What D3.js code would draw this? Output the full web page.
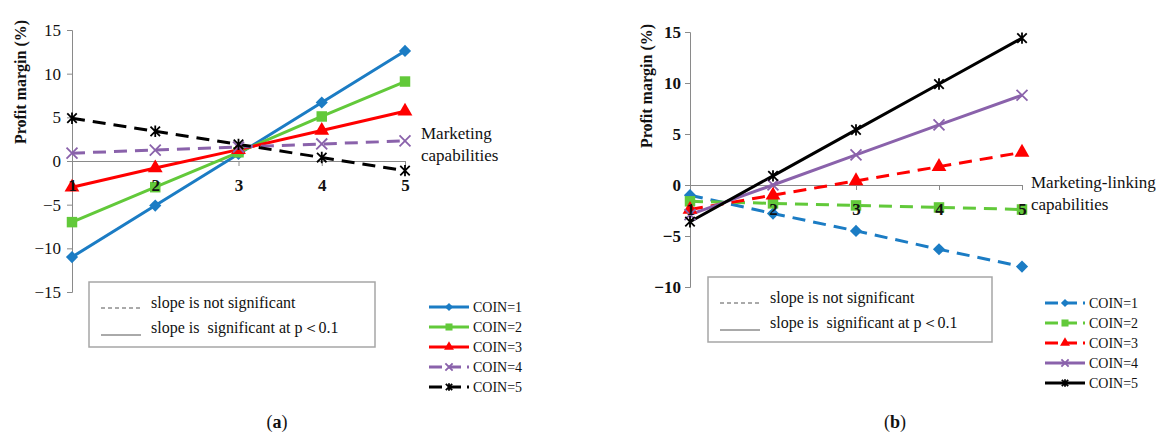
<!DOCTYPE html>
<html>
<head>
<meta charset="utf-8">
<script src="https://cdn.jsdelivr.net/npm/d3@7"></script>
<style>
  body { margin: 0; background: #fff; }
  svg text { font-family: "Liberation Serif", "Times New Roman", serif !important; fill: #111; }
</style>
</head>
<body>
<svg id="chart" width="1158" height="437"></svg>
<script>
// x positions (capability level)
const levels = [1, 2, 3, 4, 5]
const coinNames = ["COIN=1", "COIN=2", "COIN=3", "COIN=4", "COIN=5"]
const coinColors = ["#1b7cc4", "#62c93a", "#ff0000", "#8a62ab", "#000000"]

// panel (a) marketing capabilities
const aCoin1 = [-11, -5.1, 0.8, 6.7, 12.6]
const aCoin2 = [-7, -3, 1.0, 5.1, 9.1]
const aCoin3 = [-3, -0.8, 1.3, 3.5, 5.7]
const aCoin4 = [0.9, 1.25, 1.6, 1.95, 2.3]
const aCoin5 = [4.9, 3.4, 1.9, 0.4, -1.1]
const aDashed = [false, false, false, true, true]
const aTicks = [-15, -10, -5, 0, 5, 10, 15]

// panel (b) marketing-linking capabilities
const bCoin1 = [-1.0, -2.8, -4.5, -6.3, -8.0]
const bCoin2 = [-1.6, -1.8, -2.0, -2.2, -2.4]
const bCoin3 = [-2.4, -1.0, 0.4, 1.8, 3.2]
const bCoin4 = [-2.9, 0, 2.95, 5.9, 8.8]
const bCoin5 = [-3.6, 0.9, 5.4, 9.9, 14.4]
const bDashed = [true, true, true, false, false]
const bTicks = [-10, -5, 0, 5, 10, 15]

const serif = '"Liberation Serif", "Times New Roman", serif'
const svg = d3.select('#chart')

// excel-like markers
const starSymbol = {
  draw(ctx, size) {
    const r = Math.sqrt(size) / 2
    ctx.moveTo(-r, -r); ctx.lineTo(r, r)
    ctx.moveTo(-r, r); ctx.lineTo(r, -r)
    ctx.moveTo(0, -r * 1.2); ctx.lineTo(0, r * 1.2)
  }
}
const squareDiamond = {
  draw(ctx, size) {
    const r = Math.sqrt(size) / 2 * 1.25
    ctx.moveTo(0, -r); ctx.lineTo(r, 0); ctx.lineTo(0, r); ctx.lineTo(-r, 0); ctx.closePath()
  }
}
const xSymbol = d3.symbolTimes || d3.symbolX
const markerTypes = [
  { type: squareDiamond, size: 95, fill: true },
  { type: d3.symbolSquare, size: 110, fill: true },
  { type: d3.symbolTriangle, size: 95, fill: true },
  { type: xSymbol, size: 80, fill: false },
  { type: starSymbol, size: 90, fill: false }
]

function drawMarker(g, i, x, y, scale) {
  const m = markerTypes[i]
  g.append('path')
    .attr('transform', `translate(${x},${y})`)
    .attr('d', d3.symbol().type(m.type).size(m.size * (scale || 1))())
    .attr('fill', m.fill ? coinColors[i] : 'none')
    .attr('stroke', coinColors[i])
    .attr('stroke-width', m.fill ? 0 : 1.8)
}

function drawPanel(p) {
  const g = svg.append('g')
  const x = d3.scaleLinear().domain([1, 5]).range([p.left, p.right])
  const y = d3.scaleLinear().domain(d3.extent(p.ticks)).range([p.bottom, p.top])

  // y axis
  const yAxis = g.append('g')
    .attr('transform', `translate(${p.left},0)`)
    .call(d3.axisLeft(y).tickValues(p.ticks).tickFormat(d3.format('d')).tickSize(5).tickPadding(p.tickPad))
  yAxis.attr('font-family', serif)
  yAxis.select('.domain').attr('stroke', '#8a8a8a')
  yAxis.selectAll('.tick line').attr('stroke', '#8a8a8a')
  yAxis.selectAll('.tick text')
    .style('font-size', '17px')
    .style('font-weight', p.boldTicks ? 'bold' : 'normal')
    .attr('fill', '#222')

  // x axis at zero
  const xAxis = g.append('g')
    .attr('transform', `translate(0,${y(0)})`)
    .call(d3.axisBottom(x).tickValues(levels).tickFormat(d3.format('d')).tickSize(5).tickSizeOuter(0).tickPadding(13))
  xAxis.attr('font-family', serif)
  xAxis.select('.domain').attr('stroke', '#8a8a8a')
  xAxis.selectAll('.tick line').attr('stroke', '#8a8a8a')

  // y title
  g.append('text')
    .attr('transform', `translate(${p.titleX},${p.titleY}) rotate(-90)`)
    .attr('text-anchor', 'middle')
    .style('font-size', '16px')
    .style('font-weight', 'bold')
    .text('Profit margin (%)')

  // x title
  p.xTitle.forEach((t, k) => {
    g.append('text')
      .attr('x', p.xTitleX).attr('y', p.xTitleY + k * 22)
      .style('font-size', '17px')
      .text(t)
  })

  // series
  const line = d3.line().x((d, j) => x(levels[j])).y(d => y(d))
  p.series.forEach((vals, i) => {
    g.append('path')
      .attr('d', line(vals))
      .attr('fill', 'none')
      .attr('stroke', coinColors[i])
      .attr('stroke-width', 3)
      .attr('stroke-dasharray', p.dashed[i] ? '13,8' : null)
  })
  p.series.forEach((vals, i) => {
    vals.forEach((v, j) => drawMarker(g, i, x(levels[j]), y(v)))
  })

  // x tick labels sit on top of the markers
  const xLabels = g.append('g')
    .attr('transform', `translate(0,${y(0)})`)
    .call(d3.axisBottom(x).tickValues(levels).tickFormat(d3.format('d')).tickSize(5).tickSizeOuter(0).tickPadding(13))
  xLabels.attr('font-family', serif)
  xLabels.select('.domain').remove()
  xLabels.selectAll('.tick line').remove()
  xLabels.selectAll('.tick text')
    .style('font-size', '17px')
    .style('font-weight', 'bold')
    .attr('fill', '#111')
  xAxis.selectAll('.tick text').remove()

  // significance box
  const bx = p.box
  g.append('rect')
    .attr('x', bx.x).attr('y', bx.y).attr('width', bx.w).attr('height', bx.h)
    .attr('fill', '#fff').attr('stroke', '#a6a6a6').attr('stroke-width', 1.5)
  const rows = ['slope is not significant', 'slope is  significant at p\uFF1C0.1']
  rows.forEach((t, k) => {
    const ry = bx.y + 26 + k * 25
    g.append('line')
      .attr('x1', bx.x + 12).attr('x2', bx.x + 52)
      .attr('y1', ry + (k ? 2 : 0)).attr('y2', ry + (k ? 2 : 0))
      .attr('stroke', '#555').attr('stroke-width', 1)
      .attr('stroke-dasharray', k ? null : '4,3')
    g.append('text')
      .attr('x', bx.x + 62).attr('y', ry)
      .style('font-size', '16px')
      .style('white-space', 'pre')
      .text(t)
  })

  // series legend
  coinNames.forEach((name, i) => {
    const ly = p.legendY + i * 20
    g.append('line')
      .attr('x1', p.legendX).attr('x2', p.legendX + 40)
      .attr('y1', ly).attr('y2', ly)
      .attr('stroke', coinColors[i]).attr('stroke-width', 3)
      .attr('stroke-dasharray', p.dashed[i] ? '13,6' : null)
    drawMarker(g, i, p.legendX + 20, ly, 0.45)
    g.append('text')
      .attr('x', p.legendX + 44).attr('y', ly + 5)
      .style('font-size', '14px')
      .text(name)
  })

  // panel label
  g.append('text')
    .attr('x', p.labelX).attr('y', 428)
    .attr('text-anchor', 'middle')
    .style('font-size', '18px')
    .html(`(<tspan font-weight="bold">${p.label}</tspan>)`)
}

drawPanel({
  left: 72, right: 405, top: 30, bottom: 292, ticks: aTicks, tickPad: 6, boldTicks: false,
  series: [aCoin1, aCoin2, aCoin3, aCoin4, aCoin5], dashed: aDashed,
  titleX: 26, titleY: 82,
  xTitle: ['Marketing', 'capabilities'], xTitleX: 421, xTitleY: 139,
  box: { x: 89, y: 282, w: 286, h: 65 },
  legendX: 429, legendY: 307, labelX: 277, label: 'a'
})

drawPanel({
  left: 690, right: 1022, top: 32, bottom: 287, ticks: bTicks, tickPad: 4, boldTicks: true,
  series: [bCoin1, bCoin2, bCoin3, bCoin4, bCoin5], dashed: bDashed,
  titleX: 652, titleY: 86,
  xTitle: ['Marketing-linking', 'capabilities'], xTitleX: 1031, xTitleY: 188,
  box: { x: 708, y: 277, w: 284, h: 65 },
  legendX: 1045, legendY: 303, labelX: 895, label: 'b'
})
</script>
</body>
</html>
